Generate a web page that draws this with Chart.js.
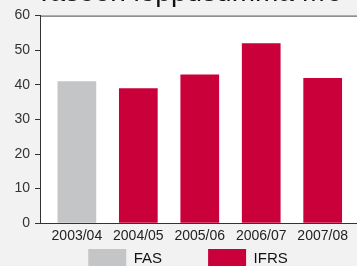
<!DOCTYPE html>
<html lang="fi">
<head>
<meta charset="utf-8">
<title>Taseen loppusumma</title>
<script src="https://cdn.jsdelivr.net/npm/chart.js@4.4.1/dist/chart.umd.min.js"></script>
<style>
    html, body {
        margin: 0;
        padding: 0;
        overflow: hidden;
        background: #f2f2f2;
    }
    .kaavio {
        position: absolute;
        left: 0;
        top: -30px;
        width: 362px;
        height: 356px;
    }
</style>
</head>
<body>
<div class="kaavio"><canvas id="tase"></canvas></div>
<script>
const otsikko = 'Taseen loppusumma M€';
const kaudet = ['2003/04', '2004/05', '2005/06', '2006/07', '2007/08'];
const fasArvot = [41, null, null, null, null];
const ifrsArvot = [null, 39, 43, 52, 42];
const yMin = 0;
const yMax = 60;
const yAskel = 10;

const fontti = "'Liberation Sans', Arial, sans-serif";

// arvot -> {x, y} pisteiksi (x = kauden indeksi)
function pisteet(arvot) {
    return arvot.map((v, i) => ({ x: i, y: v })).filter(p => p.y !== null);
}

// valkoinen piirtoalue + ylareunan viiva, selite lahemmas akselia
const kehys = {
    id: 'kehys',
    afterLayout(chart) {
        const lg = chart.legend;
        lg.top = chart.scales.x.bottom - 1 - lg.options.labels.padding;
    },
    beforeDraw(chart) {
        const ctx = chart.ctx;
        const a = chart.chartArea;
        ctx.save();
        ctx.fillStyle = '#ffffff';
        ctx.fillRect(a.left, a.top, a.right - a.left, a.bottom - a.top);
        ctx.strokeStyle = '#444444';
        ctx.lineWidth = 1;
        ctx.beginPath();
        ctx.moveTo(a.left, a.top + 0.5);
        ctx.lineTo(a.right, a.top + 0.5);
        ctx.stroke();
        ctx.restore();
    }
};

new Chart(document.getElementById('tase'), {
    type: 'bar',
    data: {
        datasets: [{
            label: 'FAS',
            data: pisteet(fasArvot),
            backgroundColor: '#c4c5c7',
            borderWidth: 0,
            grouped: false,
            categoryPercentage: 1,
            barPercentage: 0.63
        }, {
            label: 'IFRS',
            data: pisteet(ifrsArvot),
            backgroundColor: '#c9003a',
            borderWidth: 0,
            grouped: false,
            categoryPercentage: 1,
            barPercentage: 0.63
        }]
    },
    options: {
        responsive: true,
        maintainAspectRatio: false,
        animation: false,
        layout: { padding: { left: 14, right: 0, top: 0, bottom: 0 } },
        plugins: {
            title: {
                display: true,
                text: otsikko,
                color: '#111111',
                font: { family: fontti, size: 28, weight: 'normal' },
                padding: { top: 6, bottom: 6 }
            },
            legend: {
                position: 'bottom',
                labels: {
                    boxWidth: 38,
                    boxHeight: 20,
                    padding: 46,
                    color: '#111111',
                    font: { family: fontti, size: 15 }
                }
            },
            tooltip: { enabled: false }
        },
        scales: {
            x: {
                type: 'linear',
                bounds: 'data',
                min: -0.6,
                max: 4.64,
                offset: false,
                afterBuildTicks: s => {
                    s.ticks = kaudet.map((k, i) => ({ value: i }));
                },
                grid: { display: false, drawTicks: false },
                border: { display: true, color: '#333333', width: 1 },
                ticks: {
                    autoSkip: false,
                    maxRotation: 0,
                    padding: 5,
                    color: '#222222',
                    font: { family: fontti, size: 14 },
                    callback: v => kaudet[v] ?? ''
                }
            },
            y: {
                min: yMin,
                max: yMax,
                afterFit: s => { s.width = 26; },
                grid: {
                    drawOnChartArea: false,
                    drawTicks: true,
                    tickLength: 5,
                    color: '#333333'
                },
                border: { display: true, color: '#333333', width: 1 },
                ticks: {
                    stepSize: yAskel,
                    padding: 5,
                    color: '#333333',
                    font: { family: fontti, size: 14 }
                }
            }
        }
    },
    plugins: [kehys]
});
</script>
</body>
</html>
